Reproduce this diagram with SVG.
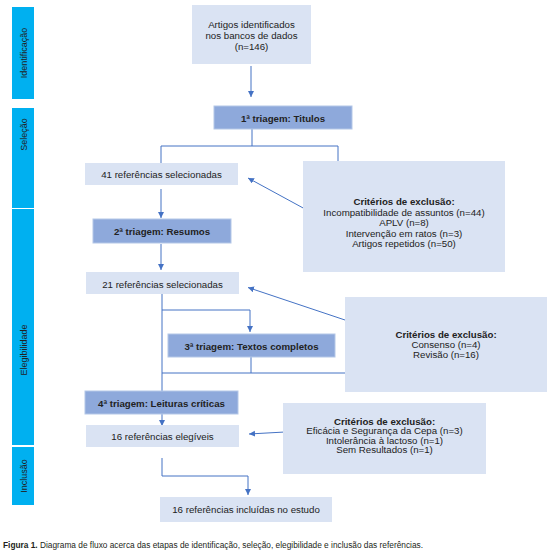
<svg xmlns="http://www.w3.org/2000/svg" width="550" height="552" viewBox="0 0 550 552">
<defs>
<style>
.t{font-family:"Liberation Sans",Arial,sans-serif;font-size:9.7px;fill:#222222;text-anchor:middle}
.s{font-family:"Liberation Sans",Arial,sans-serif;font-size:9px;fill:#222222;text-anchor:middle}
.b{font-weight:bold}
.side{fill:#00B0F0}
.lt{fill:#DAE3F3}
.tri{fill:#8EA9DB;stroke:#B4C7E7;stroke-width:1}
.c{fill:none;stroke:#4472C4;stroke-width:1}
.cap{font-family:"Liberation Sans",Arial,sans-serif;font-size:8.3px;fill:#231F20}
</style>
<marker id="ah" markerUnits="userSpaceOnUse" markerWidth="7" markerHeight="7" refX="6" refY="3" orient="auto">
<path d="M0,0 L6,3 L0,6 z" fill="#4472C4"/>
</marker>
</defs>
<rect width="550" height="552" fill="#ffffff"/>

<g id="phases">
<g id="phase-identificacao"><rect class="side" x="12" y="7" width="22" height="92"/><text class="s" transform="translate(27,53) rotate(-90)">Identificação</text></g>
<g id="phase-selecao"><rect class="side" x="12" y="108" width="22" height="100"/><text class="s" transform="translate(27,134.5) rotate(-90)">Seleção</text></g>
<g id="phase-elegibilidade"><rect class="side" x="12" y="209" width="22" height="236"/><text class="s" transform="translate(27,350) rotate(-90)">Elegibilidade</text></g>
<g id="phase-inclusao"><rect class="side" x="12" y="447" width="22" height="58"/><text class="s" transform="translate(27,476) rotate(-90)">Inclusão</text></g>
</g>

<g id="connectors">
<path class="c" d="M251,66 V97" marker-end="url(#ah)"/>
<path class="c" d="M252,129 V146 M161,146 H338 M161,146 V163 M338,146 V161"/>
<path class="c" d="M305,209 L248,178" marker-end="url(#ah)"/>
<path class="c" d="M161,189 V218" marker-end="url(#ah)"/>
<path class="c" d="M161,244 V270" marker-end="url(#ah)"/>
<path class="c" d="M345,320 L248,287.5" marker-end="url(#ah)"/>
<path class="c" d="M162,284 V310 H250 V332" marker-end="url(#ah)"/>
<path class="c" d="M162,310 V413" marker-end="url(#ah)"/>
<path class="c" d="M162,413 V426" marker-end="url(#ah)"/>
<path class="c" d="M251,357 V373 M162,373 H347"/>
<path class="c" d="M285,432 L249,434" marker-end="url(#ah)"/>
<path class="c" d="M162,458 V476 H248 V495" marker-end="url(#ah)"/>
</g>

<g id="n-identificados"><rect class="lt" x="192" y="5" width="119" height="59"/>
<text class="t"><tspan x="251.5" y="27.5">Artigos identificados</tspan><tspan x="251.5" y="38.5">nos bancos de dados</tspan><tspan x="251.5" y="49.5">(n=146)</tspan></text></g>

<g id="n-triagem1"><rect class="tri" x="214" y="106" width="138" height="23"/>
<text class="t b" x="283" y="121.5">1ª triagem: Titulos</text></g>

<g id="n-41"><rect class="lt" x="85" y="163" width="153" height="22"/>
<text class="t" x="161.5" y="177.5">41 referências selecionadas</text></g>

<g id="n-excl1"><rect class="lt" x="303" y="161" width="202" height="111"/>
<text class="t"><tspan class="b" x="404" y="205">Critérios de exclusão:</tspan><tspan x="404" y="215.5">Incompatibilidade de assuntos (n=44)</tspan><tspan x="404" y="226">APLV (n=8)</tspan><tspan x="404" y="236.5">Intervenção em ratos (n=3)</tspan><tspan x="404" y="247">Artigos repetidos (n=50)</tspan></text></g>

<g id="n-triagem2"><rect class="tri" x="93" y="219" width="138" height="24"/>
<text class="t b" x="162" y="234.5">2ª triagem: Resumos</text></g>

<g id="n-21"><rect class="lt" x="86" y="272" width="153" height="22"/>
<text class="t" x="162.5" y="287.5">21 referências selecionadas</text></g>

<g id="n-excl2"><rect class="lt" x="345" y="297" width="202" height="95"/>
<text class="t"><tspan class="b" x="446" y="338">Critérios de exclusão:</tspan><tspan x="446" y="348">Consenso (n=4)</tspan><tspan x="446" y="358">Revisão (n=16)</tspan></text></g>

<g id="n-triagem3"><rect class="tri" x="168" y="334" width="167" height="23"/>
<text class="t b" x="251.5" y="349.5">3ª triagem: Textos completos</text></g>

<g id="n-triagem4"><rect class="tri" x="85" y="391" width="153" height="23"/>
<text class="t b" x="161.5" y="406.5">4ª triagem: Leituras críticas</text></g>

<g id="n-16"><rect class="lt" x="86" y="425" width="153" height="22"/>
<text class="t" x="162.5" y="439.5">16 referências elegíveis</text></g>

<g id="n-excl3"><rect class="lt" x="283" y="403" width="203" height="71"/>
<text class="t"><tspan class="b" x="384.5" y="424.5">Critérios de exclusão:</tspan><tspan x="384.5" y="434">Eficácia e Segurança da Cepa (n=3)</tspan><tspan x="384.5" y="443.5">Intolerância à lactoso (n=1)</tspan><tspan x="384.5" y="453">Sem Resultados (n=1)</tspan></text></g>

<g id="n-incluidas"><rect class="lt" x="160" y="497" width="172" height="25"/>
<text class="t" x="246" y="513">16 referências incluídas no estudo</text></g>

<text class="cap" x="3" y="548" textLength="420" lengthAdjust="spacingAndGlyphs"><tspan font-weight="bold">Figura 1.</tspan> Diagrama de fluxo acerca das etapas de identificação, seleção, elegibilidade e inclusão das referências.</text>
</svg>
